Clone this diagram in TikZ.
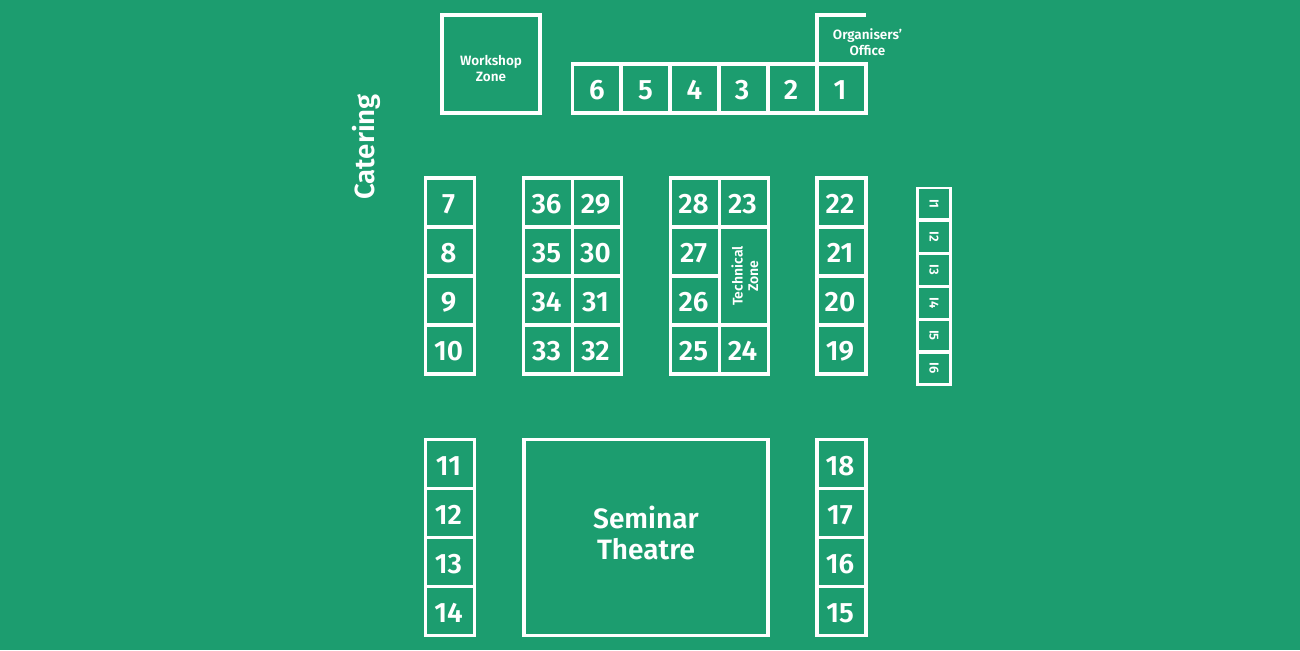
\documentclass[tikz,border=0pt]{standalone}
\usepackage{fontspec}
\setmainfont{Fira Sans SemiBold}
\definecolor{hall}{HTML}{1C9D6F}
\tikzset{
    stand/.style={draw=white, line width=3.2pt, outer sep=0pt, minimum width=49pt, minimum height=49pt, inner sep=0pt, text=white, text height=22.3pt, text depth=0pt, font=\fontsize{28}{28}\selectfont},
    number/.style={stand, execute at begin node={\hspace{-3pt}}},
    zone/.style={stand, align=center, font=\fontsize{13.5}{16}\selectfont},
    island/.style={stand, line width=2.5pt, minimum width=32pt, minimum height=32.7pt, text height=9pt, font=\fontsize{13}{13}\selectfont, rotate=-90}
}
\begin{document}
\begin{tikzpicture}[x=1pt,y=-1pt]
\fill[hall] (0,0) rectangle (1300,650);
\useasboundingbox (0,0) rectangle (1300,650);

% top row
\foreach \n/\x in {6/597, 5/645.5, 4/694.5}
    \node[stand] (s\n) at (\x,88.5) {\n};
\foreach \n/\x in {3/743.5, 2/792.5, 1/841.5}
    \node[number] (s\n) at (\x,88.5) {\n};
\draw[white, line width=3.2pt] (s1.north west) -- ++(0,-49) coordinate (office) -- ++(49,0);
\node[text=white, align=center, font=\fontsize{13.5}{16}\selectfont, inner sep=0pt] (officelabel) at (867.5,42) {Organisers’\\Office};
\node[zone, minimum width=98pt, minimum height=98pt, text height=36pt] (workshop) at (491,64) {Workshop\\Zone};
\node[text=white, rotate=90, inner sep=0pt, font=\fontsize{27.7}{27.7}\selectfont] (catering) at (366,147) {Catering};

% middle block
\foreach \n/\x/\y in {7/450/202.5, 8/450/251.5, 9/450/300.5, 10/450/349.5,
    36/548/202.5, 35/548/251.5, 34/548/300.5, 33/548/349.5,
    29/597/202.5, 30/597/251.5, 31/597/300.5, 32/597/349.5,
    28/695/202.5, 27/695/251.5, 26/695/300.5, 25/695/349.5,
    23/744/202.5, 24/744/349.5,
    22/841.5/202.5, 21/841.5/251.5, 20/841.5/300.5, 19/841.5/349.5}
    \node[number] (s\n) at (\x,\y) {\n};
\node[zone, rotate=90, minimum width=98pt, minimum height=49pt, text height=28pt, font=\fontsize{14}{15.5}\selectfont] (technical) at (744,276) {Technical\\Zone};

% islands
\foreach \n/\y in {1/204, 2/237, 3/270, 4/303, 5/335.5, 6/368.5}
    \node[island] (i\n) at (934,\y) {I\n};
\draw[white, line width=3.2pt] (i1.north east) rectangle (i6.south west);

% bottom block
\foreach \n/\x/\y in {11/450/464, 12/450/513, 13/450/562, 14/450/611,
    18/841.5/464, 17/841.5/513, 16/841.5/562, 15/841.5/611}
    \node[number] (s\n) at (\x,\y) {\n};
\node[stand, align=center, minimum width=244pt, minimum height=196pt, text height=, text depth=10pt, font=\fontsize{28}{31}\selectfont] (seminar) at (646,537.5) {Seminar\\Theatre};
\end{tikzpicture}
\end{document}
